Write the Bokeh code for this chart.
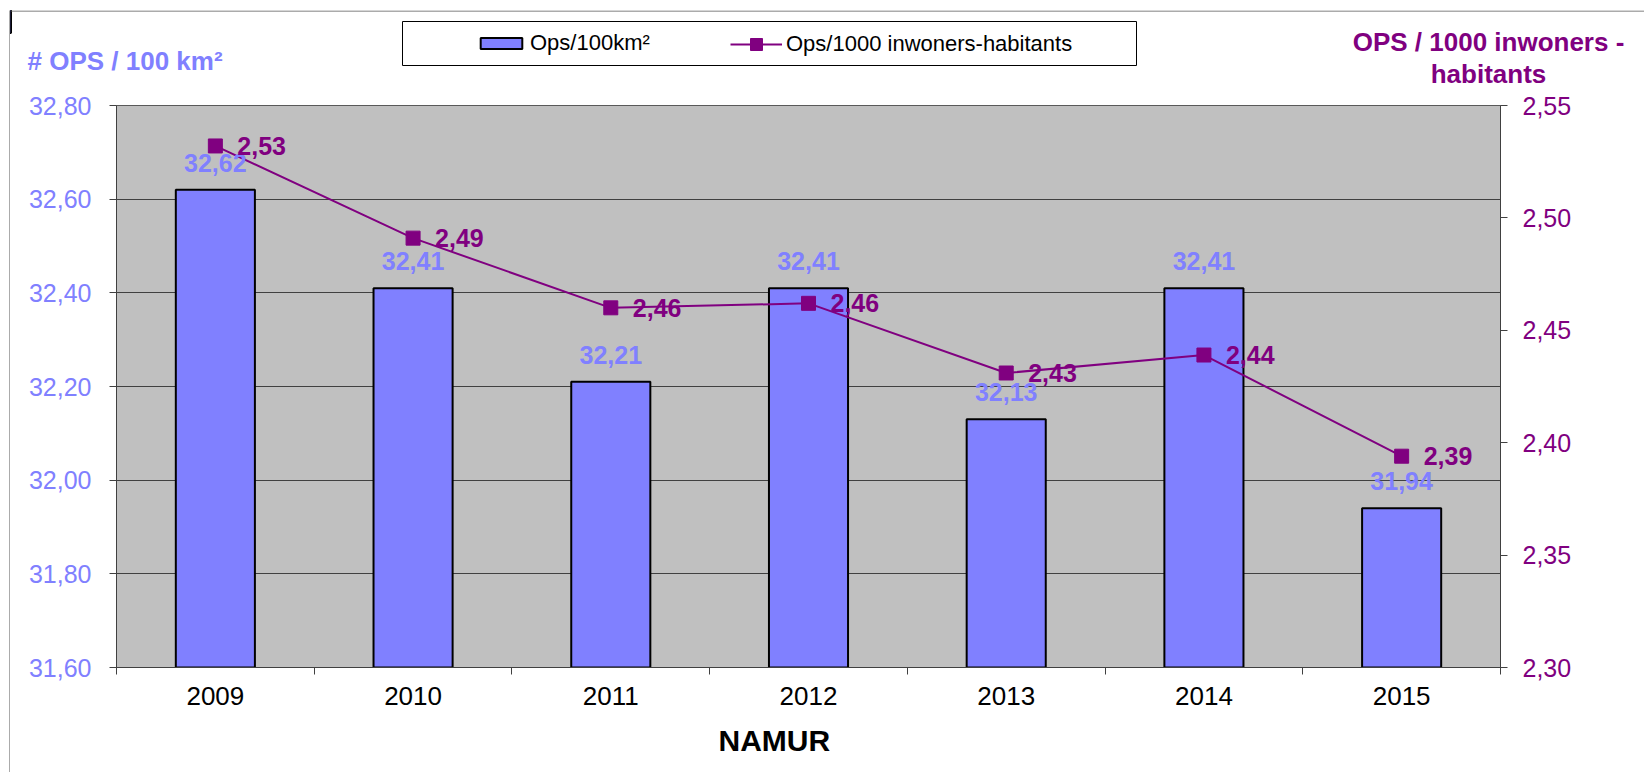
from bokeh.plotting import figure
from bokeh.layouts import column, row
from bokeh.core.properties import value
from bokeh.models import (ColumnDataSource, Range1d, LinearAxis, FixedTicker, Legend, LegendItem,
                          LabelSet, Label, BoxAnnotation, CustomJSTickFormatter, Title, Span)
from bokeh.embed import file_html
from bokeh.resources import INLINE

# ---- data ----
years = ["2009", "2010", "2011", "2012", "2013", "2014", "2015"]
ops_per_100km2 = [32.62, 32.41, 32.21, 32.41, 32.13, 32.41, 31.94]
ops_per_1000_inh = [2.532, 2.491, 2.460, 2.462, 2.431, 2.439, 2.394]
left_ticks = [31.60, 31.80, 32.00, 32.20, 32.40, 32.60, 32.80]
right_ticks = [2.30, 2.35, 2.40, 2.45, 2.50, 2.55]
left_title = "# OPS / 100 km²"
right_title_1 = "OPS / 1000 inwoners -"
right_title_2 = "habitants"
x_title = "NAMUR"
series_names = ["Ops/100km²", "Ops/1000 inwoners-habitants"]

BAR = "#8080FF"
PURPLE = "#800080"
FONT = "Liberation Sans"
AXC = "#404040"
EDGE = "#595959"

def fmt(v):
    return f"{v:.2f}".replace(".", ",")

x_pos = [i + 0.5 for i in range(len(years))]
src = ColumnDataSource(dict(
    x=x_pos,
    ops=ops_per_100km2,
    inh=ops_per_1000_inh,
    ops_lbl=[fmt(v) for v in ops_per_100km2],
    inh_lbl=[fmt(v) for v in ops_per_1000_inh],
))

W = 1634
HH = 80      # header strip (titles + legend)
HM = 682     # main chart

# ---------------- left edge of the chart area (1px strip) ----------------
edge = figure(width=1, height=HH + HM, min_border=0, x_axis_location=None,
              y_axis_location=None, toolbar_location=None, output_backend="svg")
edge.frame_align = False
edge.grid.visible = False
edge.outline_line_color = None
edge.background_fill_color = EDGE
edge.border_fill_color = EDGE

# ---------------- header: titles and legend ----------------
h = figure(width=W, height=HH, x_range=Range1d(10, 10 + W), y_range=Range1d(10 + HH, 10),
           min_border=0, x_axis_location=None, y_axis_location=None,
           toolbar_location=None, output_backend="svg")
h.frame_align = False
h.grid.visible = False
h.outline_line_color = None
h.background_fill_color = "white"
h.border_fill_color = "white"
h.add_layout(Span(location=10.5, dimension="width", line_color=EDGE, line_width=1))

h.add_layout(Label(x=27, y=60, text=left_title, text_align="left", text_baseline="middle",
                   text_color=BAR, text_font=FONT, text_font_size="26px",
                   text_font_style="bold"))
h.add_layout(Label(x=1488, y=41, text=right_title_1, text_align="center",
                   text_baseline="middle", text_color=PURPLE, text_font=FONT,
                   text_font_size="26px", text_font_style="bold"))
h.add_layout(Label(x=1488, y=73, text=right_title_2, text_align="center",
                   text_baseline="middle", text_color=PURPLE, text_font=FONT,
                   text_font_size="26px", text_font_style="bold"))

h.add_layout(BoxAnnotation(left=402, right=1136, top=21, bottom=65,
                           fill_color="white", fill_alpha=1.0,
                           line_color="black", line_width=1, line_alpha=1.0))
# legend keys: same series, drawn outside the header's visible range (only the keys show)
key_bar = h.vbar(x="x", top="ops", bottom=0, width=0.4, source=src,
                 fill_color=BAR, line_color="black", line_width=2)
key_line = h.line(x="x", y="inh", source=src, line_color=PURPLE, line_width=2)
key_mark = h.scatter(x="x", y="inh", source=src, marker="square", size=12,
                     fill_color=PURPLE, line_color=PURPLE)
legend_common = dict(orientation="horizontal", padding=0, glyph_width=52,
                     border_line_color=None, background_fill_alpha=0.0,
                     label_text_font=FONT, label_text_font_size="22px",
                     label_text_color="black")
legend_bar = Legend(items=[LegendItem(label=series_names[0], renderers=[key_bar])],
                    location=(465, 34), glyph_height=14, label_standoff=3, **legend_common)
legend_line = Legend(items=[LegendItem(label=series_names[1], renderers=[key_line, key_mark])],
                     location=(720, 31), glyph_height=30, label_standoff=4, **legend_common)
h.add_layout(legend_bar, "center")
h.add_layout(legend_line, "center")

# ---------------- main chart ----------------
p = figure(width=W, height=HM, x_range=Range1d(0, len(years)),
           y_range=Range1d(left_ticks[0], left_ticks[-1]),
           output_backend="svg", toolbar_location=None,
           min_border_left=106, min_border_right=144, min_border_top=15,
           min_border_bottom=105)
p.frame_align = False
p.extra_y_ranges = {"right": Range1d(right_ticks[0], right_ticks[-1])}
p.background_fill_color = "#C0C0C0"
p.border_fill_color = "white"
p.outline_line_color = EDGE
p.outline_line_width = 1

p.xgrid.visible = False
p.ygrid.grid_line_color = AXC
p.ygrid.grid_line_width = 1

ya = p.yaxis[0]
ya.ticker = FixedTicker(ticks=left_ticks)
p.ygrid[0].ticker = ya.ticker
ya.formatter = CustomJSTickFormatter(code="return tick.toFixed(2).replace('.', ',')")
ya.major_label_text_color = BAR
ya.major_label_text_font = FONT
ya.major_label_text_font_size = "25px"
ya.major_tick_out = 7
ya.major_tick_in = 0
ya.minor_tick_line_color = None
ya.major_label_standoff = 18
ya.axis_line_color = AXC
ya.major_tick_line_color = AXC

ra = LinearAxis(y_range_name="right", ticker=FixedTicker(ticks=right_ticks),
                formatter=CustomJSTickFormatter(code="return tick.toFixed(2).replace('.', ',')"))
ra.major_label_text_color = PURPLE
ra.major_label_text_font = FONT
ra.major_label_text_font_size = "25px"
ra.major_tick_out = 7
ra.major_tick_in = 0
ra.minor_tick_line_color = None
ra.major_label_standoff = 15
ra.axis_line_color = AXC
ra.major_tick_line_color = AXC
p.add_layout(ra, "right")

xa = p.xaxis[0]
xa.ticker = FixedTicker(ticks=x_pos, minor_ticks=list(range(len(years) + 1)))
xa.formatter = CustomJSTickFormatter(args=dict(years=years),
                                     code="return years[Math.floor(tick)] || ''")
xa.major_tick_line_color = None
xa.major_tick_out = 7
xa.major_tick_in = 0
xa.minor_tick_out = 7
xa.minor_tick_in = 0
xa.minor_tick_line_color = AXC
xa.axis_line_color = AXC
xa.major_label_text_font = FONT
xa.major_label_text_font_size = "26px"
xa.major_label_text_color = "black"
xa.major_label_standoff = 12

bars = p.vbar(x="x", top="ops", bottom=0, width=0.4, source=src,
              fill_color=BAR, line_color="black", line_width=2)
line = p.line(x="x", y="inh", source=src, y_range_name="right",
              line_color=PURPLE, line_width=2)
marks = p.scatter(x="x", y="inh", source=src, y_range_name="right",
                  marker="square", size=14, fill_color=PURPLE, line_color=PURPLE)

p.add_layout(LabelSet(x="x", y="ops", text="ops_lbl", source=src,
                      text_align="center", text_baseline="alphabetic", y_offset=18,
                      text_color=BAR, text_font=value(FONT), text_font_size=value("25px"),
                      text_font_style=value("bold")))
p.add_layout(LabelSet(x="x", y="inh", text="inh_lbl", source=src, y_range_name="right",
                      text_align="left", text_baseline="middle", x_offset=22,
                      text_color=PURPLE, text_font=value(FONT), text_font_size=value("25px"),
                      text_font_style=value("bold")))

p.add_layout(Title(text=x_title, align="left", offset=602, text_font=FONT,
                   text_font_size="30px", text_font_style="bold", text_color="black",
                   standoff=28), "below")

layout = row(edge, column(h, p, spacing=0), spacing=0)
layout.styles = {"margin-left": "9px", "margin-top": "10px"}

open("out.html", "w").write(file_html(layout, INLINE))
